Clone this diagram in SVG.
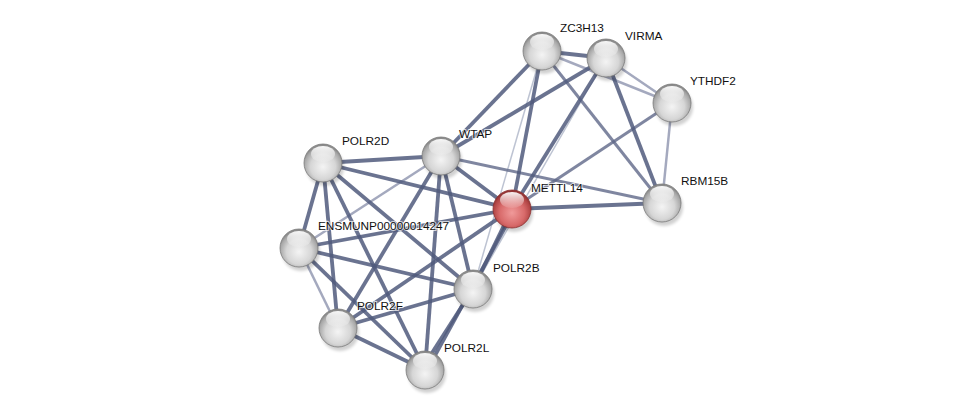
<svg xmlns="http://www.w3.org/2000/svg" width="976" height="415" viewBox="0 0 976 415">
<style>
.e1{stroke:#505a7c;stroke-width:3.8;stroke-opacity:0.85;fill:none}
.e2{stroke:#5f6888;stroke-width:3;stroke-opacity:0.8;fill:none}
.e3{stroke:#8d94ae;stroke-width:2.5;stroke-opacity:0.8;fill:none}
.e4{stroke:#b6bccd;stroke-width:1.5;stroke-opacity:0.9;fill:none}
.lbl{font-family:"Liberation Sans",Arial,sans-serif;font-size:11.8px;fill:#111;stroke:#fff;stroke-width:2;stroke-opacity:0.7;paint-order:stroke}
.ball{fill:url(#gw);stroke:#7a7a7a;stroke-width:0.8}
.red{fill:url(#gr);stroke:#8a2e2e;stroke-width:0.8}
.hl{fill:url(#gh)}
.sh{fill:#000;opacity:0.18;filter:url(#blur)}
</style>
<defs>
<radialGradient id="gw" cx="0.5" cy="0.6" r="0.55">
<stop offset="0" stop-color="#f4f4f4"/>
<stop offset="0.6" stop-color="#d6d6d6"/>
<stop offset="0.9" stop-color="#a8a8a8"/>
<stop offset="1" stop-color="#8c8c8c"/>
</radialGradient>
<radialGradient id="gr" cx="0.5" cy="0.6" r="0.55">
<stop offset="0" stop-color="#f09a9a"/>
<stop offset="0.6" stop-color="#d86a6a"/>
<stop offset="0.9" stop-color="#b04444"/>
<stop offset="1" stop-color="#943434"/>
</radialGradient>
<linearGradient id="gh" x1="0" y1="0" x2="0" y2="1">
<stop offset="0" stop-color="#fff" stop-opacity="0.95"/>
<stop offset="1" stop-color="#fff" stop-opacity="0.1"/>
</linearGradient>
<filter id="blur" x="-50%" y="-50%" width="200%" height="200%"><feGaussianBlur stdDeviation="1.5"/></filter>
</defs>
<rect width="976" height="415" fill="#fff"/>
<g id="edges">
<line class="e4" x1="542" y1="51" x2="473" y2="289"/>
<line class="e4" x1="606" y1="58" x2="473" y2="289"/>
<line class="e3" x1="542" y1="51" x2="672" y2="103"/>
<line class="e3" x1="606" y1="58" x2="672" y2="103"/>
<line class="e3" x1="672" y1="103" x2="662" y2="203"/>
<line class="e3" x1="299" y1="248" x2="338" y2="328"/>
<line class="e3" x1="299" y1="248" x2="441" y2="156"/>
<line class="e2" x1="542" y1="51" x2="662" y2="203"/>
<line class="e2" x1="672" y1="103" x2="512" y2="209"/>
<line class="e2" x1="441" y1="156" x2="662" y2="203"/>
<line class="e1" x1="542" y1="51" x2="606" y2="58"/>
<line class="e1" x1="542" y1="51" x2="512" y2="209"/>
<line class="e1" x1="542" y1="51" x2="441" y2="156"/>
<line class="e1" x1="606" y1="58" x2="441" y2="156"/>
<line class="e1" x1="606" y1="58" x2="512" y2="209"/>
<line class="e1" x1="606" y1="58" x2="662" y2="203"/>
<line class="e1" x1="512" y1="209" x2="662" y2="203"/>
<line class="e1" x1="441" y1="156" x2="512" y2="209"/>
<line class="e1" x1="323" y1="163" x2="441" y2="156"/>
<line class="e1" x1="323" y1="163" x2="512" y2="209"/>
<line class="e1" x1="323" y1="163" x2="299" y2="248"/>
<line class="e1" x1="323" y1="163" x2="338" y2="328"/>
<line class="e1" x1="323" y1="163" x2="425" y2="370"/>
<line class="e1" x1="323" y1="163" x2="473" y2="289"/>
<line class="e1" x1="441" y1="156" x2="338" y2="328"/>
<line class="e1" x1="441" y1="156" x2="425" y2="370"/>
<line class="e1" x1="441" y1="156" x2="473" y2="289"/>
<line class="e1" x1="512" y1="209" x2="299" y2="248"/>
<line class="e1" x1="512" y1="209" x2="473" y2="289"/>
<line class="e1" x1="514" y1="211" x2="427" y2="370"/>
<line class="e1" x1="512" y1="209" x2="338" y2="328"/>
<line class="e1" x1="299" y1="248" x2="473" y2="289"/>
<line class="e1" x1="299" y1="248" x2="425" y2="370"/>
<line class="e1" x1="338" y1="328" x2="473" y2="289"/>
<line class="e1" x1="338" y1="328" x2="425" y2="370"/>
<line class="e1" x1="473" y1="289" x2="421" y2="370"/>
</g>
<g id="n-ZC3H13"><ellipse class="sh" cx="544" cy="55" rx="19" ry="19"/><circle class="ball" cx="542" cy="51" r="19"/><ellipse class="hl" cx="542" cy="42" rx="12" ry="8"/><text class="lbl" x="560" y="32">ZC3H13</text></g>
<g id="n-VIRMA"><ellipse class="sh" cx="608" cy="62" rx="19" ry="19"/><circle class="ball" cx="606" cy="58" r="19"/><ellipse class="hl" cx="606" cy="49" rx="12" ry="8"/><text class="lbl" x="625" y="40">VIRMA</text></g>
<g id="n-YTHDF2"><ellipse class="sh" cx="674" cy="107" rx="19" ry="19"/><circle class="ball" cx="672" cy="103" r="19"/><ellipse class="hl" cx="672" cy="94" rx="12" ry="8"/><text class="lbl" x="690" y="85">YTHDF2</text></g>
<g id="n-RBM15B"><ellipse class="sh" cx="664" cy="207" rx="19" ry="19"/><circle class="ball" cx="662" cy="203" r="19"/><ellipse class="hl" cx="662" cy="194" rx="12" ry="8"/><text class="lbl" x="681" y="185">RBM15B</text></g>
<g id="n-WTAP"><ellipse class="sh" cx="443" cy="160" rx="19" ry="19"/><circle class="ball" cx="441" cy="156" r="19"/><ellipse class="hl" cx="441" cy="147" rx="12" ry="8"/><text class="lbl" x="459" y="138">WTAP</text></g>
<g id="n-POLR2D"><ellipse class="sh" cx="325" cy="167" rx="19" ry="19"/><circle class="ball" cx="323" cy="163" r="19"/><ellipse class="hl" cx="323" cy="154" rx="12" ry="8"/><text class="lbl" x="342" y="145">POLR2D</text></g>
<g id="n-METTL14"><ellipse class="sh" cx="514" cy="213" rx="19" ry="19"/><circle class="red" cx="512" cy="209" r="19"/><ellipse class="hl" cx="512" cy="200" rx="12" ry="8"/><text class="lbl" x="531" y="192">METTL14</text></g>
<g id="n-ENSMUNP00000014247"><ellipse class="sh" cx="301" cy="252" rx="19" ry="19"/><circle class="ball" cx="299" cy="248" r="19"/><ellipse class="hl" cx="299" cy="239" rx="12" ry="8"/><text class="lbl" x="318" y="230">ENSMUNP00000014247</text></g>
<g id="n-POLR2B"><ellipse class="sh" cx="475" cy="293" rx="19" ry="19"/><circle class="ball" cx="473" cy="289" r="19"/><ellipse class="hl" cx="473" cy="280" rx="12" ry="8"/><text class="lbl" x="493" y="272">POLR2B</text></g>
<g id="n-POLR2F"><ellipse class="sh" cx="340" cy="332" rx="19" ry="19"/><circle class="ball" cx="338" cy="328" r="19"/><ellipse class="hl" cx="338" cy="319" rx="12" ry="8"/><text class="lbl" x="357" y="310">POLR2F</text></g>
<g id="n-POLR2L"><ellipse class="sh" cx="427" cy="374" rx="19" ry="19"/><circle class="ball" cx="425" cy="370" r="19"/><ellipse class="hl" cx="425" cy="361" rx="12" ry="8"/><text class="lbl" x="444" y="352">POLR2L</text></g>
</svg>
